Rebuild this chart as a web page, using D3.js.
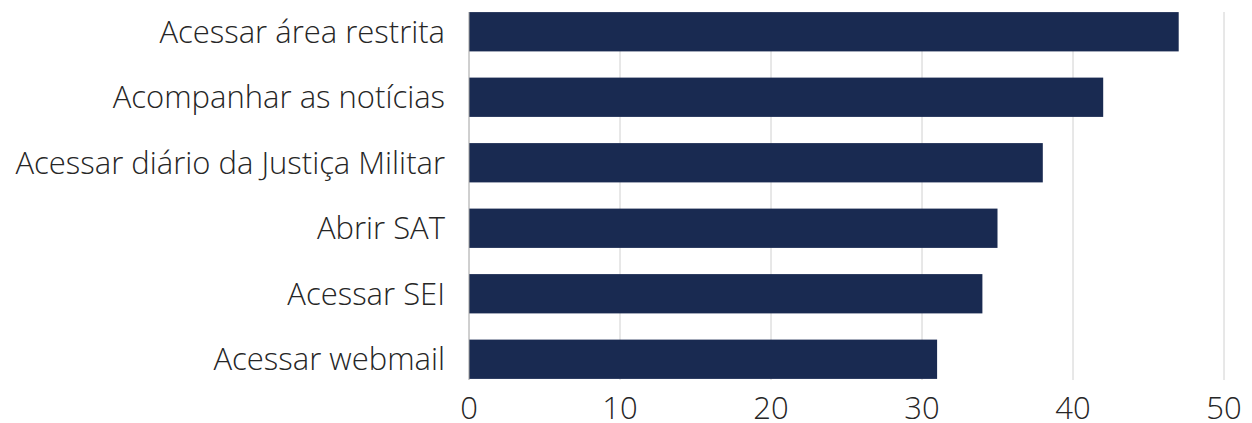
<!DOCTYPE html>
<html><head><meta charset="utf-8">
<script src="https://cdn.jsdelivr.net/npm/d3@7"></script>
<style>body{margin:0;background:#fff}svg{display:block}text{font-family:"Open Sans",sans-serif;font-weight:300;fill:#262626}</style>
</head><body><svg id="c" width="1252" height="423"></svg>
<script>
const categories = ["Acessar área restrita","Acompanhar as notícias","Acessar diário da Justiça Militar","Abrir SAT ","Acessar SEI","Acessar webmail"];
const values = [47,42,38,35,34,31];
const tickValues = [0,10,20,30,40,50];

const svg = d3.select("#c");
const x = d3.scaleLinear().domain([0,50]).range([469,1224]);
const y = d3.scaleBand().domain(categories).range([-1,392]).paddingInner(0.4).paddingOuter(0.2);

const gridTop = 12, gridBottom = 380;
svg.append("g").selectAll("line").data(tickValues.slice(1)).join("line")
  .attr("x1",d=>x(d)).attr("x2",d=>x(d)).attr("y1",gridTop).attr("y2",gridBottom)
  .attr("stroke","#d0d0d0").attr("stroke-width",1);

svg.append("g").selectAll("rect").data(values).join("rect")
  .attr("x",x(0)).attr("y",(d,i)=>y(categories[i]))
  .attr("width",d=>x(d)-x(0)).attr("height",y.bandwidth())
  .attr("fill","#192a51");

svg.append("line").attr("x1",x(0)).attr("x2",x(0)).attr("y1",gridTop).attr("y2",gridBottom)
  .attr("stroke","#a0a0a0").attr("stroke-width",1);

svg.append("g").selectAll("text").data(categories).join("text")
  .attr("x",445).attr("y",d=>y(d)+y.bandwidth()/2).attr("dy","0.35em")
  .attr("text-anchor","end").style("font-size","31px").text(d=>d.trim());

svg.append("g").selectAll("text").data(tickValues).join("text")
  .attr("x",d=>x(d)).attr("y",419)
  .attr("text-anchor","middle").style("font-size","31px").text(d=>d);
</script></body></html>
